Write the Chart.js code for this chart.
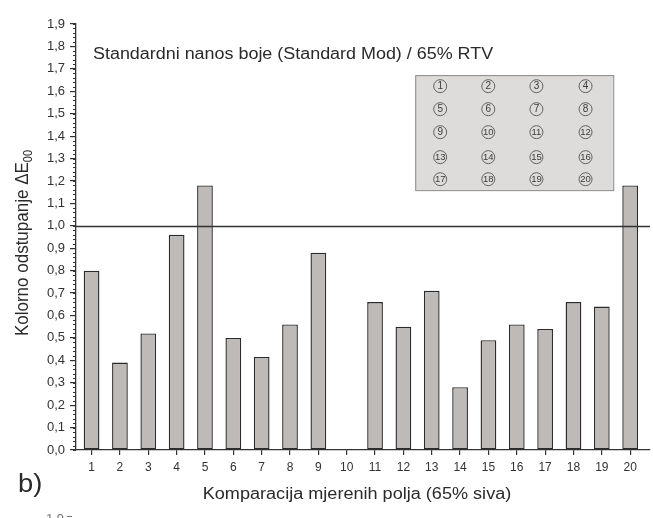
<!DOCTYPE html>
<html>
<head>
<meta charset="utf-8">
<script src="https://cdn.jsdelivr.net/npm/chart.js@4.4.1/dist/chart.umd.min.js"></script>
<style>
    html, body { margin: 0; padding: 0; background: #fff; }
    canvas { display: block; }
</style>
</head>
<body>
<canvas id="deltaChart" width="653" height="518"></canvas>
<script>
// Measured fields 1..20 and their colour difference
const fields = [1, 2, 3, 4, 5, 6, 7, 8, 9, 10, 11, 12, 13, 14, 15, 16, 17, 18, 19, 20];
const deltaE = [0.80, 0.39, 0.52, 0.96, 1.18, 0.50, 0.415, 0.56, 0.88, 0, 0.66, 0.55, 0.71, 0.28, 0.49, 0.56, 0.54, 0.66, 0.64, 1.18];
const yMax = 1.9;
const yStep = 0.1;
const yMinorStep = 0.02;
const threshold = 1.0;
const insetRows = [[1, 2, 3, 4], [5, 6, 7, 8], [9, 10, 11, 12], [13, 14, 15, 16], [17, 18, 19, 20]];

const FONT = '"Liberation Sans", Arial, sans-serif';
const INK = '#2a2a2a';

function fmt(v) {
    return v.toFixed(1).replace('.', ',');
}

// text squeezed/stretched horizontally
function drawText(ctx, text, x, y, size, sx, align) {
    ctx.save();
    ctx.translate(x, y);
    ctx.scale(sx, 1);
    ctx.font = size + 'px ' + FONT;
    ctx.textAlign = align || 'left';
    ctx.textBaseline = 'alphabetic';
    ctx.fillText(text, 0, 0);
    ctx.restore();
}

const decorations = {
    id: 'decorations',
    afterDatasetsDraw(chart) {
        const ctx = chart.ctx;
        const ca = chart.chartArea;
        const y = chart.scales.y;

        // limit line at dE = 1
        const ty = Math.round(y.getPixelForValue(threshold)) + 0.5;
        ctx.save();
        ctx.strokeStyle = '#333';
        ctx.lineWidth = 1.3;
        ctx.beginPath();
        ctx.moveTo(ca.left, ty);
        ctx.lineTo(ca.right, ty);
        ctx.stroke();

        // minor ticks on the y axis
        ctx.lineWidth = 1;
        ctx.beginPath();
        for (let v = 0; v <= yMax + 1e-6; v += yMinorStep) {
            const py = Math.round(y.getPixelForValue(v)) + 0.5;
            ctx.moveTo(ca.left - 3, py);
            ctx.lineTo(ca.left, py);
        }
        ctx.stroke();
        ctx.restore();
    },
    afterDraw(chart) {
        const ctx = chart.ctx;
        const ca = chart.chartArea;
        const w = ca.right - ca.left;
        const h = ca.bottom - ca.top;

        // inset with the layout of the measured fields
        const bx = ca.left + w * 0.591;
        const by = ca.top + h * 0.12;
        const bw = w * 0.345;
        const bh = h * 0.27;
        ctx.save();
        ctx.fillStyle = '#dddcdb';
        ctx.strokeStyle = '#8a8a8a';
        ctx.lineWidth = 1;
        ctx.fillRect(bx, by, bw, bh);
        ctx.strokeRect(bx + 0.5, by + 0.5, bw, bh);

        const colX = [0.126, 0.369, 0.612, 0.86];
        const rowY = [0.096, 0.296, 0.496, 0.713, 0.905];
        insetRows.forEach((row, r) => {
            row.forEach((n, c) => {
                const cx = bx + bw * colX[c];
                const cy = by + bh * rowY[r];
                ctx.strokeStyle = '#555';
                ctx.lineWidth = 0.9;
                ctx.beginPath();
                ctx.arc(cx, cy, 6.5, 0, Math.PI * 2);
                ctx.stroke();
                ctx.fillStyle = '#3a3a3a';
                ctx.font = (n > 9 ? 9.5 : 10) + 'px ' + FONT;
                ctx.textAlign = 'center';
                ctx.textBaseline = 'middle';
                ctx.fillText(String(n), cx, cy + 0.5);
            });
        });
        ctx.restore();

        ctx.save();
        ctx.fillStyle = INK;
        // caption inside the plot
        drawText(ctx, 'Standardni nanos boje (Standard Mod) / 65% RTV', ca.left + 17, 59, 16, 1.12, 'left');

        // x axis title
        drawText(ctx, 'Komparacija mjerenih polja (65% siva)', 357, 499, 16, 1.13, 'center');

        // panel letter
        drawText(ctx, 'b)', 18, 492, 26, 1.05, 'left');

        // y axis title with subscript
        ctx.save();
        ctx.translate(28, 243);
        ctx.rotate(-Math.PI / 2);
        ctx.scale(1, 1.1);
        ctx.textBaseline = 'alphabetic';
        ctx.font = '17px ' + FONT;
        const main = 'Kolorno odstupanje ΔE';
        const mw = ctx.measureText(main).width;
        ctx.font = '11px ' + FONT;
        const sw = ctx.measureText('00').width;
        const start = -(mw + sw) / 2;
        ctx.font = '17px ' + FONT;
        ctx.textAlign = 'left';
        ctx.fillText(main, start, 0);
        ctx.font = '11px ' + FONT;
        ctx.fillText('00', start + mw, 4);
        ctx.restore();

        // top of the next panel's axis, cut by the page edge
        ctx.fillStyle = '#777';
        ctx.font = '13px ' + FONT;
        ctx.textAlign = 'right';
        ctx.fillText(fmt(yMax), 64, 523);
        ctx.fillRect(67, 516, 5, 1);
        ctx.restore();
    }
};

new Chart(document.getElementById('deltaChart'), {
    type: 'bar',
    data: {
        datasets: [{
            data: fields.map((f, i) => ({ x: f, y: deltaE[i] })),
            backgroundColor: '#bdbab8',
            borderColor: '#2b2b2b',
            borderWidth: 1.4,
            borderSkipped: false,
            barPercentage: 0.555,
            categoryPercentage: 1
        }]
    },
    options: {
        responsive: false,
        animation: false,
        layout: { padding: { top: 24, right: 3, left: 0, bottom: 0 } },
        plugins: {
            legend: { display: false },
            tooltip: { enabled: false }
        },
        scales: {
            x: {
                type: 'linear',
                offset: false,
                min: 0.45,
                max: 20.7,
                afterBuildTicks: s => { s.ticks = fields.map(v => ({ value: v })); },
                afterFit: s => { s.height = 68; },
                grid: { offset: false, drawOnChartArea: false, drawTicks: true, tickLength: 5, color: '#333', lineWidth: 1.2 },
                border: { color: '#333', width: 1.3 },
                ticks: {
                    autoSkip: false,
                    maxRotation: 0,
                    padding: 5,
                    color: '#333',
                    font: { family: FONT, size: 12 },
                    callback: v => String(v)
                }
            },
            y: {
                min: 0,
                max: yMax,
                afterFit: s => { s.width = 76; },
                grid: { drawOnChartArea: false, drawTicks: true, tickLength: 6, color: '#333', lineWidth: 1.2 },
                border: { color: '#333', width: 1.3 },
                ticks: {
                    stepSize: yStep,
                    autoSkip: false,
                    padding: 5,
                    color: '#333',
                    font: { family: FONT, size: 13 },
                    callback: v => fmt(v)
                }
            }
        }
    },
    plugins: [decorations]
});
</script>
</body>
</html>
